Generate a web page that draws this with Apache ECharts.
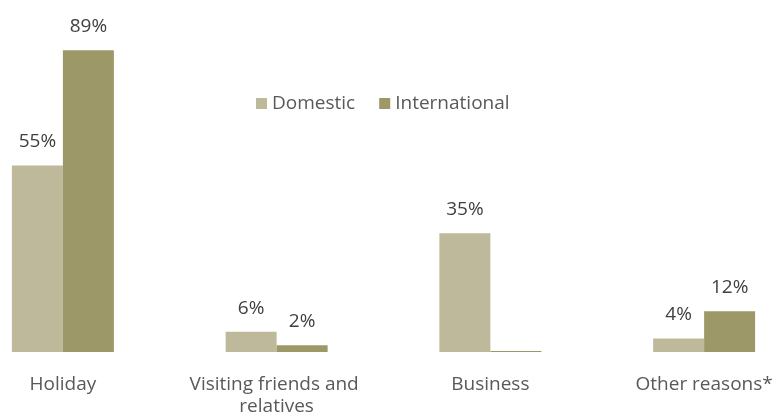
<!DOCTYPE html>
<html>
<head>
<meta charset="utf-8">
<script src="https://cdn.jsdelivr.net/npm/echarts@6/dist/echarts.min.js"></script>
<style>html,body{margin:0;padding:0;background:#fff;overflow:hidden;width:773px;height:418px;position:relative}#c{position:absolute;left:-44px;top:0;width:855px;height:418px}</style>
</head>
<body>
<div id="c"></div>
<script>
var categories = ['Holiday', 'Visiting friends and relatives', 'Business', 'Other reasons*'];
var domestic = [55, 6, 35, 4];
var international = [89, 2, 0, 12];
var seriesNames = ['Domestic', 'International'];

var chart = echarts.init(document.getElementById('c'), null, {renderer: 'canvas', width: 855, height: 418});
var font = '"Open Sans", sans-serif';
var labelCfg = {
  show: true, position: 'top', distance: 14, color: '#404040',
  fontFamily: font, fontSize: 19,
  formatter: function (p) { return p.value === 0 ? '' : p.value + '%'; }
};
chart.setOption({
  animation: false,
  color: ['#BEB99B', '#9C9867'],
  legend: {
    top: 89, left: 295, itemWidth: 11, itemHeight: 11, itemGap: 24,
    icon: 'rect',
    textStyle: {fontFamily: font, fontSize: 19, color: '#595959'},
    data: seriesNames
  },
  grid: {left: 0, width: 855, top: 13, height: 344, containLabel: false},
  xAxis: {
    type: 'category', data: categories,
    axisLine: {show: false}, axisTick: {show: false},
    axisLabel: {
      interval: 0, margin: 22, color: '#595959', fontFamily: font, fontSize: 19,
      lineHeight: 22, width: 190, overflow: 'break'
    }
  },
  yAxis: {type: 'value', min: 0, max: 100, show: false, splitLine: {show: false}},
  series: [
    {name: seriesNames[0], type: 'bar', data: domestic, barWidth: 51, barGap: '0%', label: labelCfg},
    {name: seriesNames[1], type: 'bar', data: international, barWidth: 51, barGap: '0%', barMinHeight: 1, label: labelCfg}
  ]
});
</script>
</body>
</html>
